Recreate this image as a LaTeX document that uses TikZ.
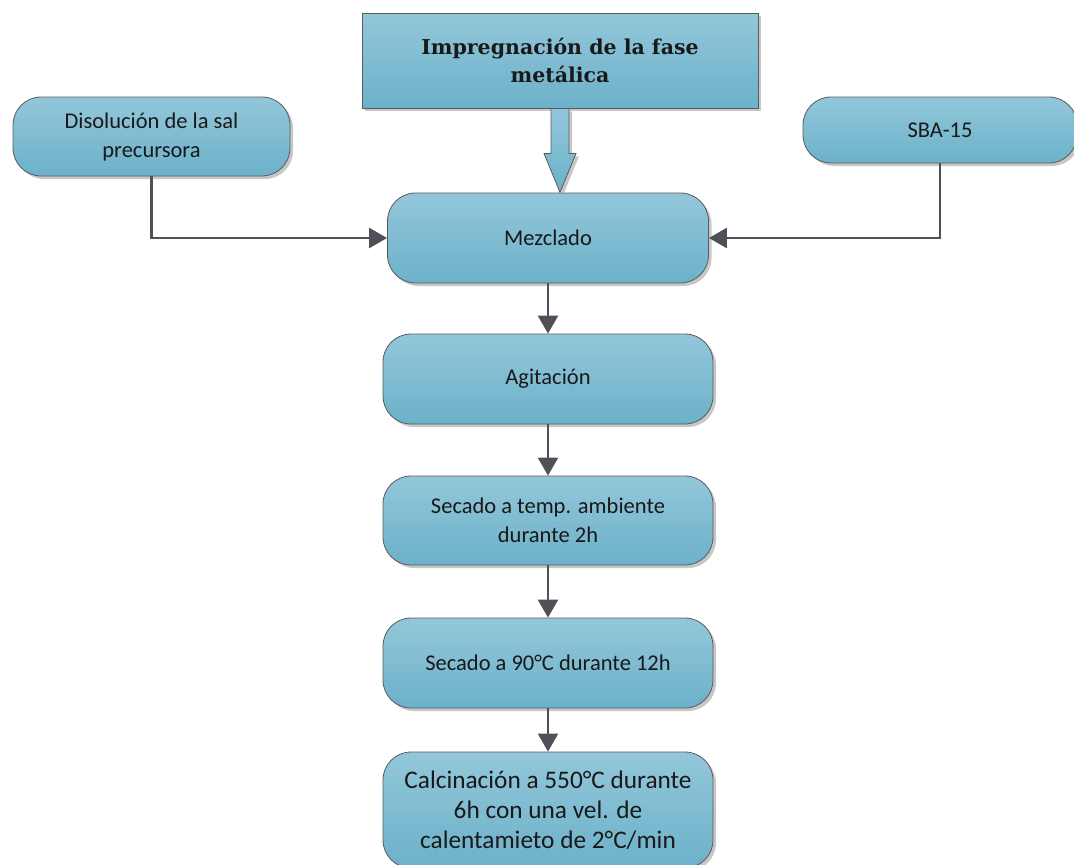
\documentclass[tikz,border=0pt]{standalone}
\usepackage{fontspec}
\setmainfont{Carlito}
\newfontfamily\headfont{DejaVu Serif}
\usetikzlibrary{shadows,arrows.meta}

\definecolor{boxtop}{HTML}{93C7DA}
\definecolor{boxbot}{HTML}{6CB1CA}
\definecolor{boxline}{HTML}{5A5A5A}
\definecolor{linkgray}{HTML}{505058}

\tikzset{
	boxshadow/.style={drop shadow={shadow xshift=3pt,shadow yshift=-3pt,fill=black!40,opacity=.55}},
	stepbox/.style={draw=boxline,line width=0.8pt,rounded corners=28pt,
		top color=boxtop,bottom color=boxbot,align=center,text=black!90,
		inner sep=0pt,font=\fontsize{22.5}{29}\selectfont,boxshadow},
	headbox/.style={stepbox,rounded corners=0pt,font=\headfont\bfseries\fontsize{20.5}{28}\selectfont},
	link/.style={draw=linkgray,line width=2.5pt,-{Triangle[length=18pt,width=20pt]}},
	bigarrow/.style={draw=boxline,line width=0.8pt,top color=boxtop,bottom color=boxbot,boxshadow},
}

\begin{document}
\begin{tikzpicture}[x=1pt,y=-1pt]
	\useasboundingbox (0,0) rectangle (1074,865);
	% etapas
	\node[headbox,minimum width=396pt,minimum height=95pt] (hdr) at (560,60.5)
		{Impregnación de la fase\\metálica};
	\node[stepbox,minimum width=277pt,minimum height=79pt] (diso) at (151.5,136.5)
		{Disolución de la sal\\precursora};
	\node[stepbox,minimum width=274pt,minimum height=66pt] (sba) at (940,130) {SBA-15};
	\node[stepbox,minimum width=321pt,minimum height=90pt] (mez) at (548,238) {Mezclado};
	\node[stepbox,minimum width=330pt,minimum height=90pt] (agi) at (548,379) {Agitación};
	\node[stepbox,minimum width=330pt,minimum height=89pt] (seca) at (548,520.5)
		{Secado a temp. ambiente\\durante 2h};
	\node[stepbox,minimum width=330pt,minimum height=90pt] (secb) at (548,663)
		{Secado a 90°C durante 12h};
	\node[stepbox,minimum width=330pt,minimum height=116pt,
		font=\fontsize{25.3}{30}\selectfont] (calc) at (548,810)
		{Calcinación a 550°C durante\\6h con una vel. de\\calentamieto de 2°C/min};

	% flecha de bloque
	\draw[bigarrow] (hdr.south) ++(-9,0) -- ++(0,45) -- ++(-7,0) -- ++(16,39)
		-- ++(16,-39) -- ++(-7,0) -- ++(0,-45) -- cycle;

	% conectores
	\draw[link] (diso.south) |- (mez.west);
	\draw[link] (sba.south) |- (mez.east);
	\draw[link] (mez) -- (agi);
	\draw[link] (agi) -- (seca);
	\draw[link] (seca) -- (secb);
	\draw[link] (secb) -- (calc);
\end{tikzpicture}
\end{document}
